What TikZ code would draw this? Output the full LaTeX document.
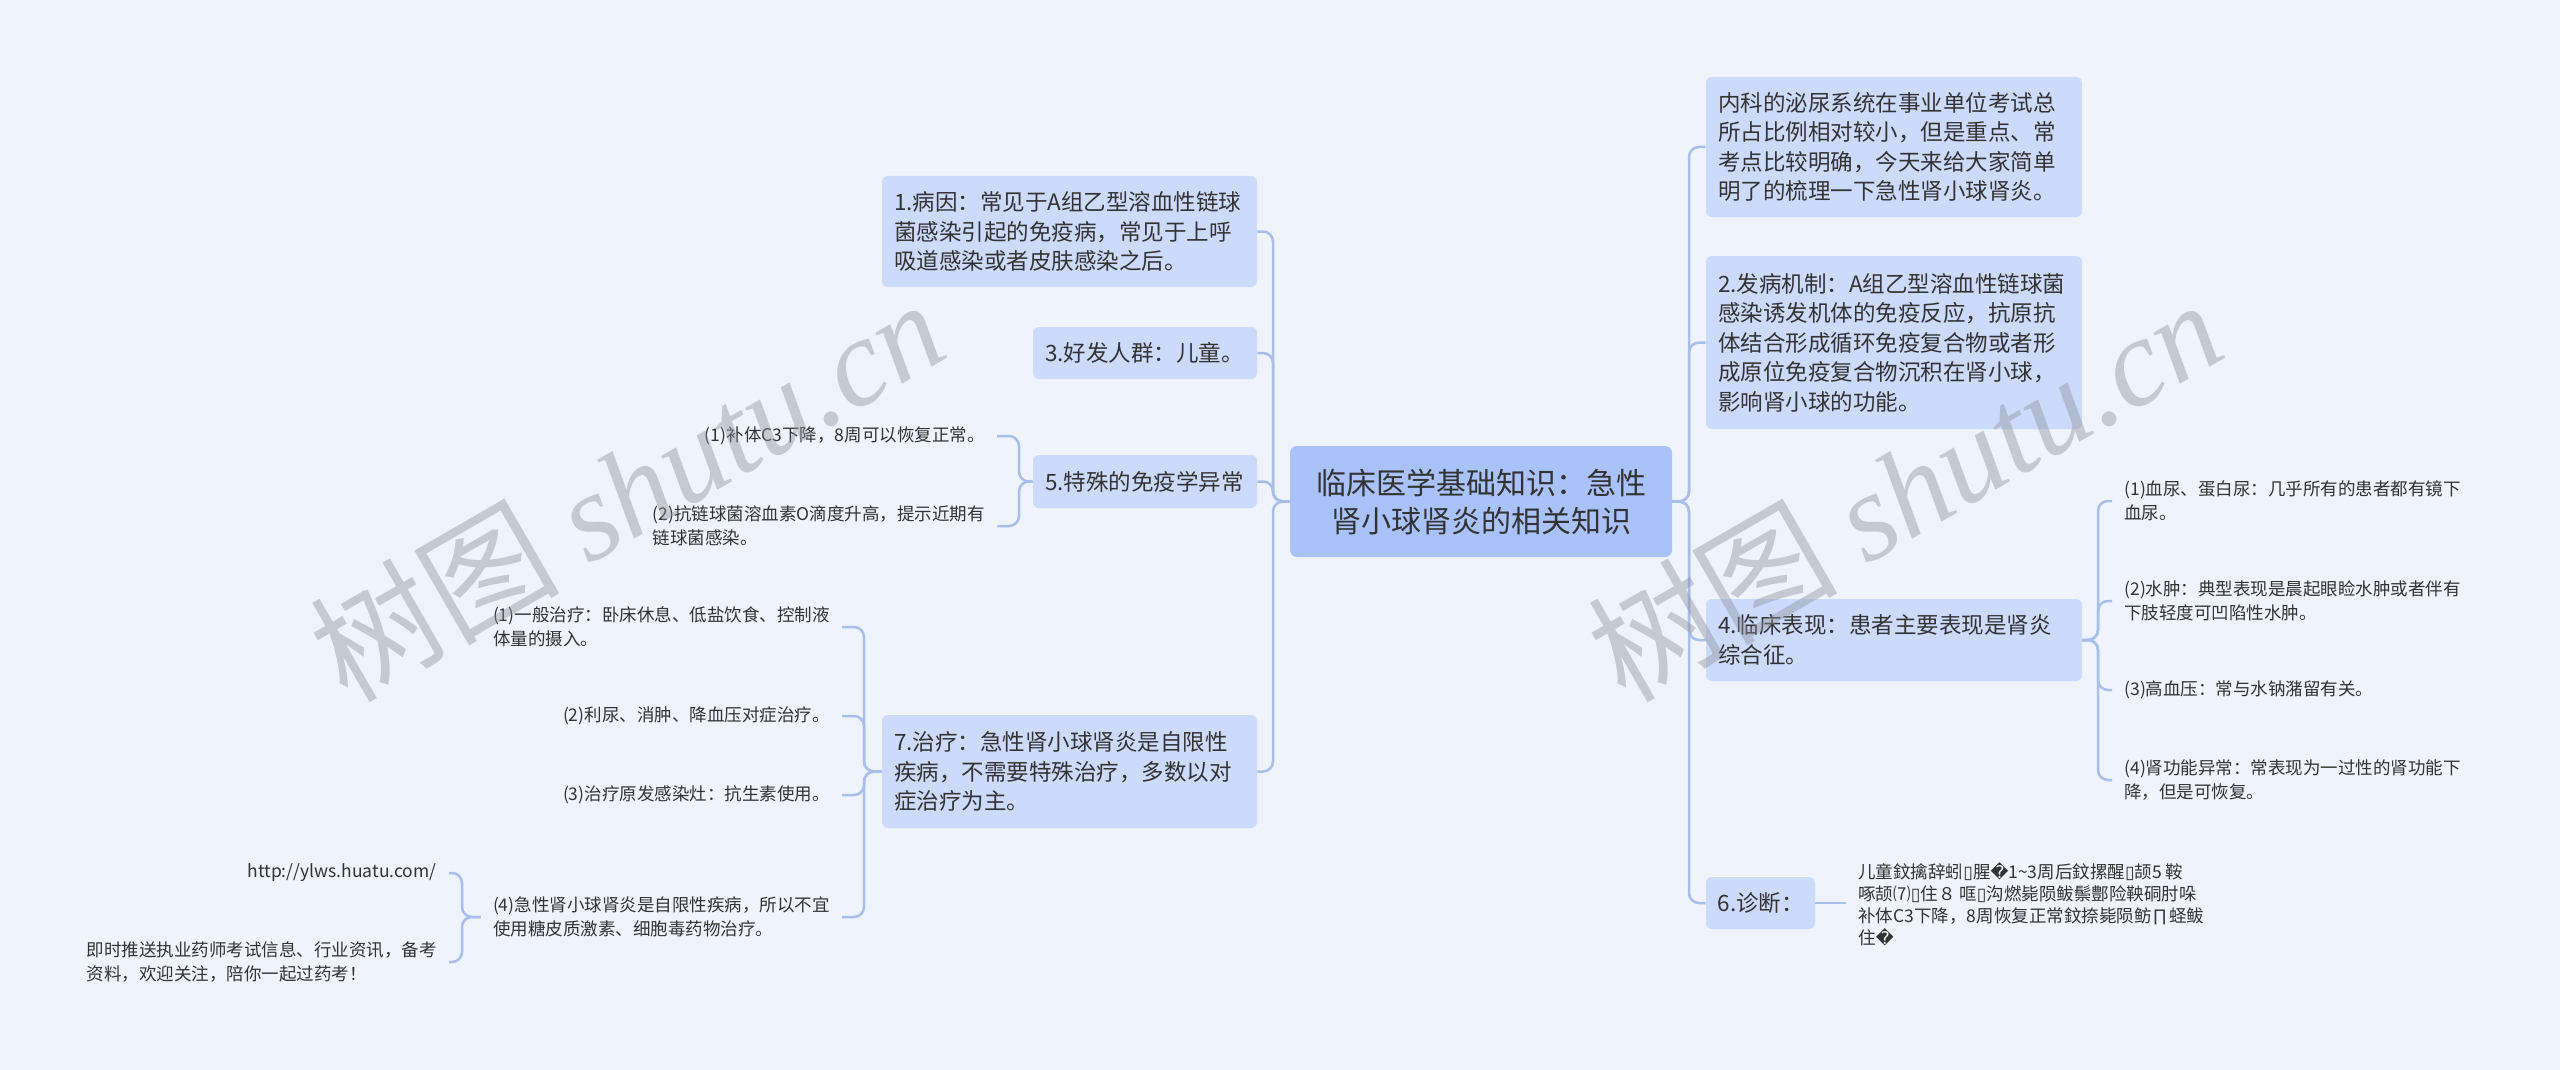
\documentclass[tikz,border=0pt]{standalone}
\usepackage{fontspec}
\setmainfont{Noto Sans CJK SC}
\newfontfamily\dvsans{DejaVu Sans}
\newfontfamily\wmlatin{Liberation Serif}
\definecolor{bg}{HTML}{EEF3FC}
\definecolor{nodeblue}{HTML}{CCDBFB}
\definecolor{rootblue}{HTML}{A9C2F9}
\definecolor{connblue}{HTML}{A8BFEE}
\definecolor{txt}{HTML}{333333}
\definecolor{wm}{HTML}{8C9099}
\begin{document}
\begin{tikzpicture}[x=0.5pt,y=-0.5pt,
  box/.style={fill=nodeblue, rounded corners=3pt, inner xsep=6pt, inner ysep=0pt, align=left, text=txt, font=\fontsize{11.25}{14.75}\selectfont},
  rootbox/.style={fill=rootblue, rounded corners=3.5pt, inner sep=0pt, align=center, text=txt, minimum width=191pt, minimum height=55.5pt, font=\fontsize{15}{19}\selectfont},
  leaf/.style={inner xsep=6pt, inner ysep=1pt, align=left, text=txt, font=\fontsize{8.75}{12}\selectfont},
  conn/.style={draw=connblue, line width=1.25pt, rounded corners=5pt},
  wmark/.style={rotate=30, anchor=base, text=wm, text opacity=0.42, font=\fontsize{62.5}{70}\selectfont}
]
\fill[bg] (0,0) rectangle (2560,1070);
\useasboundingbox (0,0) rectangle (2560,1070);

% bracket x positions
\coordinate (tL) at (1273,501.5);
\coordinate (tR) at (1689,501.5);
\coordinate (b5) at (1019,481.5);
\coordinate (b7) at (864,771.5);
\coordinate (b74) at (462,917);
\coordinate (b4) at (2098,640);

% root
\node[rootbox] (root) at (1481,501.5) {临床医学基础知识：急性\\肾小球肾炎的相关知识};

% left main nodes
\node[box, text width=175.5pt, minimum height=55.5pt] (n1) at (1069.5,231.5) {1.病因：常见于A组乙型溶血性链球\\菌感染引起的免疫病，常见于上呼\\吸道感染或者皮肤感染之后。};
\node[box, text width=100pt, minimum height=26pt] (n3) at (1145,353) {3.好发人群：儿童。};
\node[box, text width=100pt, minimum height=26.5pt] (n5) at (1145,481.5) {5.特殊的免疫学异常};
\node[box, text width=175.5pt, minimum height=56.5pt] (n7) at (1069.5,771.5) {7.治疗：急性肾小球肾炎是自限性\\疾病，不需要特殊治疗，多数以对\\症治疗为主。};

% right main nodes
\node[box, text width=176pt, minimum height=70pt] (intro) at (1894,147) {内科的泌尿系统在事业单位考试总\\所占比例相对较小，但是重点、常\\考点比较明确，今天来给大家简单\\明了的梳理一下急性肾小球肾炎。};
\node[box, text width=176pt, minimum height=86.5pt] (n2) at (1894,342.5) {2.发病机制：A组乙型溶血性链球菌\\感染诱发机体的免疫反应，抗原抗\\体结合形成循环免疫复合物或者形\\成原位免疫复合物沉积在肾小球，\\影响肾小球的功能。};
\node[box, text width=176pt, minimum height=41pt] (n4) at (1894,640) {4.临床表现：患者主要表现是肾炎\\综合征。};
\node[box, text width=43pt, inner xsep=5.75pt, minimum height=26pt] (n6) at (1760.5,903) {6.诊断：};

% left leaves
\node[leaf, anchor=east] (c51) at (997,436) {(1)补体C3下降，8周可以恢复正常。};
\node[leaf, anchor=east] (c52) at (997,526) {(2)抗链球菌溶血素O滴度升高，提示近期有\\链球菌感染。};
\node[leaf, anchor=east] (c71) at (842,627) {(1)一般治疗：卧床休息、低盐饮食、控制液\\体量的摄入。};
\node[leaf, anchor=east] (c72) at (842,716) {(2)利尿、消肿、降血压对症治疗。};
\node[leaf, anchor=east] (c73) at (842,795) {(3)治疗原发感染灶：抗生素使用。};
\node[leaf, anchor=east] (c74) at (842,917) {(4)急性肾小球肾炎是自限性疾病，所以不宜\\使用糖皮质激素、细胞毒药物治疗。};
\node[leaf, anchor=east] (c741) at (449,873) {http://ylws.huatu.com/};
\node[leaf, anchor=east] (c742) at (449,962) {即时推送执业药师考试信息、行业资讯，备考\\资料，欢迎关注，陪你一起过药考！};

% right leaves
\node[leaf, anchor=west] (c41) at (2112,501) {(1)血尿、蛋白尿：几乎所有的患者都有镜下\\血尿。};
\node[leaf, anchor=west] (c42) at (2112,601) {(2)水肿：典型表现是晨起眼睑水肿或者伴有\\下肢轻度可凹陷性水肿。};
\node[leaf, anchor=west] (c43) at (2112,690) {(3)高血压：常与水钠潴留有关。};
\node[leaf, anchor=west] (c44) at (2112,780) {(4)肾功能异常：常表现为一过性的肾功能下\\降，但是可恢复。};
\node[leaf, anchor=west, font=\fontsize{8.75}{11}\selectfont] (c61) at (1846,904) {儿童鈫擒辞蚓{\dvsans ▯}腥{\dvsans �}1\textasciitilde 3周后鈫摞醒{\dvsans ▯}颉5 鞍\\啄颉⑺{\dvsans ▯}住８ 哐{\dvsans ▯}沟燃毙陨鲅鬃鄷险鞅硐肘哚\\补体C3下降，8周恢复正常鈫捺毙陨鲂∏蛏鲅\\住{\dvsans �}};

% connectors: root to left
\draw[conn] (root.west) -- (tL) |- (n1.east);
\draw[conn] (root.west) -- (tL) |- (n3.east);
\draw[conn] (root.west) -- (tL) |- (n5.east);
\draw[conn] (root.west) -- (tL) |- (n7.east);
% root to right
\draw[conn] (root.east) -- (tR) |- (intro.west);
\draw[conn] (root.east) -- (tR) |- (n2.west);
\draw[conn] (root.east) -- (tR) |- (n4.west);
\draw[conn] (root.east) -- (tR) |- (n6.west);
% n5 children
\draw[conn] (n5.west) -- (n5.west -| b5) |- (c51.east);
\draw[conn] (n5.west) -- (n5.west -| b5) |- (c52.east);
% n7 children
\draw[conn] (n7.west) -- (n7.west -| b7) |- (c71.east);
\draw[conn] (n7.west) -- (n7.west -| b7) |- (c72.east);
\draw[conn] (n7.west) -- (n7.west -| b7) |- (c73.east);
\draw[conn] (n7.west) -- (n7.west -| b7) |- (c74.east);
% c74 children
\draw[conn] (c74.west) -- (c74.west -| b74) |- (c741.east);
\draw[conn] (c74.west) -- (c74.west -| b74) |- (c742.east);
% n4 children
\draw[conn] (n4.east) -- (n4.east -| b4) |- (c41.west);
\draw[conn] (n4.east) -- (n4.east -| b4) |- (c42.west);
\draw[conn] (n4.east) -- (n4.east -| b4) |- (c43.west);
\draw[conn] (n4.east) -- (n4.east -| b4) |- (c44.west);
% n6 child
\draw[conn] (n6.east) -- (c61.west |- n6.east);

% watermarks
\node[wmark] (wm1) at (650,530) {树图 {\wmlatin\itshape shutu.cn}};
\node[wmark] (wm2) at (1928,530) {树图 {\wmlatin\itshape shutu.cn}};
\end{tikzpicture}
\end{document}
